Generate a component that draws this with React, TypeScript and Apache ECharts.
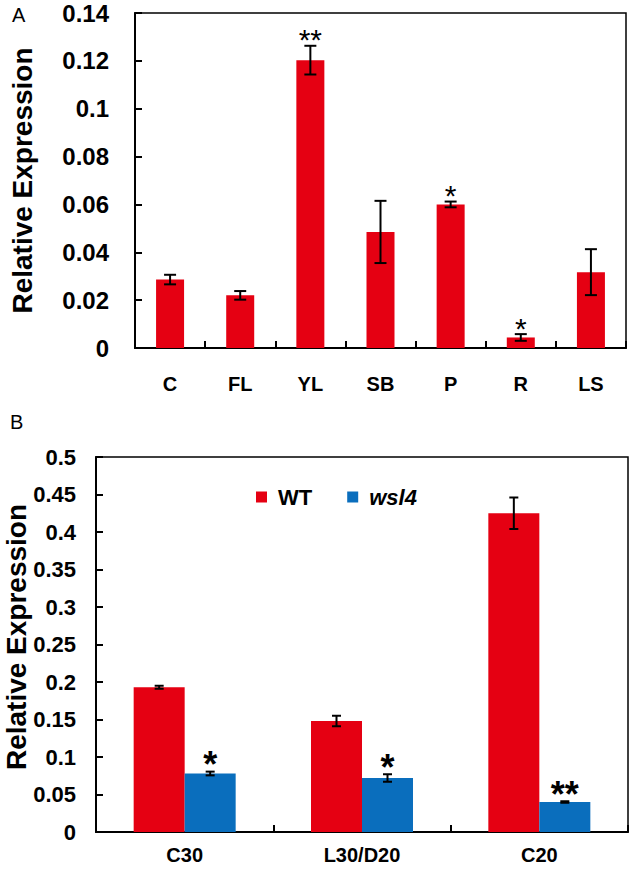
import React, { useEffect, useRef } from "react";
import * as echarts from "echarts";

// Panel A data
const catsA = ["C", "FL", "YL", "SB", "P", "R", "LS"];
const valsA = [0.0286, 0.022, 0.1203, 0.0485, 0.06, 0.0044, 0.0317];
const errsA = [0.002, 0.0018, 0.006, 0.013, 0.0012, 0.0014, 0.0096];
const starsA = ["", "", "**", "", "*", "*", ""];
const ticksA = { min: 0, max: 0.14, interval: 0.02 };

// Panel B data
const catsB = ["C30", "L30/D20", "C20"];
const seriesNamesB = ["WT", "wsl4"];
const wtB = [0.193, 0.148, 0.425];
const wtErrB = [0.002, 0.007, 0.021];
const wtStarsB = ["", "", ""];
const wslB = [0.078, 0.072, 0.04];
const wslErrB = [0.0025, 0.005, 0.001];
const wslStarsB = ["*", "*", "**"];
const ticksB = { min: 0, max: 0.5, interval: 0.05 };

const RED = "#E50012";
const BLUE = "#0A6EBD";
const FONT = 'Arial, "Liberation Sans", sans-serif';

function errSeries(
  values: number[],
  errs: number[],
  stars: string[],
  offset: number,
  gridIdx: number,
  capW: number,
  starSize: number,
  starGap: number,
  starWeight: string
) {
  return {
    type: "custom",
    xAxisIndex: gridIdx,
    yAxisIndex: gridIdx,
    z: 10,
    silent: true,
    encode: { x: 0, y: 1 },
    data: values.map((v, i) => [i, v, errs[i]]),
    renderItem: (params: any, api: any) => {
      const i = api.value(0);
      const v = api.value(1);
      const e = api.value(2);
      const pt = api.coord([i, v + e]);
      const pb = api.coord([i, v - e]);
      const x = pt[0] + offset;
      const st = { stroke: "#000", lineWidth: 2 };
      const children: any[] = [
        { type: "line", shape: { x1: x, y1: pt[1], x2: x, y2: pb[1] }, style: st },
        { type: "line", shape: { x1: x - capW / 2, y1: pt[1], x2: x + capW / 2, y2: pt[1] }, style: st },
        { type: "line", shape: { x1: x - capW / 2, y1: pb[1], x2: x + capW / 2, y2: pb[1] }, style: st },
      ];
      const s = stars[params.dataIndex];
      if (s) {
        children.push({
          type: "text",
          x: x,
          y: pt[1] - starGap,
          style: {
            text: s,
            fill: "#000",
            font: `${starWeight} ${starSize}px ${FONT}`,
            align: "center",
            verticalAlign: "middle",
          },
        });
      }
      return { type: "group", children };
    },
  };
}

export default function App() {
  const ref = useRef<HTMLDivElement>(null);
  useEffect(() => {
    if (!ref.current) return;
    const chart = echarts.init(ref.current, undefined, { renderer: "svg" });
    const axisLine = { show: true, lineStyle: { color: "#000", width: 2 } };
    const yLabel = (size: number, margin: number) => ({
      color: "#000",
      fontWeight: "bold",
      fontSize: size,
      fontFamily: FONT,
      margin,
    });
    const barWB = 51;
    chart.setOption({
      animation: false,
      backgroundColor: "#fff",
      grid: [
        { left: 123, top: 13, right: 8, bottom: 521, show: true, borderColor: "#000", borderWidth: 1.5 },
        { left: 96, top: 457, right: 6, bottom: 37, show: true, borderColor: "#000", borderWidth: 1.5 },
      ],
      legend: {
        data: seriesNamesB,
        left: 256,
        top: 486,
        padding: 0,
        icon: "rect",
        itemWidth: 11,
        itemHeight: 11,
        itemGap: 35,
        formatter: (name: string) => (name === "wsl4" ? `{i|${name}}` : `{b|${name}}`),
        textStyle: {
          padding: [0, 0, 0, 6],
          rich: {
            b: { fontSize: 22, fontWeight: "bold", fontFamily: FONT, color: "#000" },
            i: { fontSize: 22, fontWeight: "bold", fontStyle: "italic", fontFamily: FONT, color: "#000" },
          },
        },
      },
      graphic: [
        { type: "text", left: 12, top: 5, style: { text: "A", font: `20px ${FONT}`, fill: "#000" } },
        { type: "text", left: 10, top: 412, style: { text: "B", font: `20px ${FONT}`, fill: "#000" } },
        {
          type: "text",
          x: 16,
          y: 637,
          rotation: Math.PI / 2,
          style: {
            text: "Relative Expression",
            font: `bold 28px ${FONT}`,
            fill: "#000",
            align: "center",
            verticalAlign: "middle",
          },
        },
      ],
      xAxis: [
        {
          type: "category",
          gridIndex: 0,
          data: catsA,
          axisLine,
          axisTick: { show: true, inside: true, length: 7, lineStyle: { color: "#000", width: 2 } },
          axisLabel: { color: "#000", fontWeight: "bold", fontSize: 20, fontFamily: FONT, margin: 26 },
        },
        {
          type: "category",
          gridIndex: 1,
          data: catsB,
          axisLine,
          axisTick: { show: true, inside: true, length: 7, lineStyle: { color: "#000", width: 2 } },
          axisLabel: { color: "#000", fontWeight: "bold", fontSize: 20, fontFamily: FONT, margin: 13 },
        },
      ],
      yAxis: [
        {
          type: "value",
          gridIndex: 0,
          ...ticksA,
          axisLine,
          splitLine: { show: false },
          axisTick: { show: true, inside: true, length: 7, lineStyle: { color: "#000", width: 2 } },
          axisLabel: yLabel(24, 26),
          name: "Relative Expression",
          nameLocation: "middle",
          nameRotate: 90,
          nameGap: 99,
          nameTextStyle: { color: "#000", fontWeight: "bold", fontSize: 28, fontFamily: FONT },
        },
        {
          type: "value",
          gridIndex: 1,
          ...ticksB,
          axisLine,
          splitLine: { show: false },
          axisTick: { show: true, inside: true, length: 7, lineStyle: { color: "#000", width: 2 } },
          axisLabel: yLabel(22, 20),
        },
      ],
      series: [
        {
          type: "bar",
          xAxisIndex: 0,
          yAxisIndex: 0,
          data: valsA,
          barWidth: 28,
          itemStyle: { color: RED },
        },
        errSeries(valsA, errsA, starsA, 0, 0, 12, 30, 6, "normal"),
        {
          type: "bar",
          name: seriesNamesB[0],
          xAxisIndex: 1,
          yAxisIndex: 1,
          data: wtB,
          barWidth: barWB,
          barGap: "0%",
          itemStyle: { color: RED },
        },
        {
          type: "bar",
          name: seriesNamesB[1],
          xAxisIndex: 1,
          yAxisIndex: 1,
          data: wslB,
          barWidth: barWB,
          barGap: "0%",
          itemStyle: { color: BLUE },
        },
        errSeries(wtB, wtErrB, wtStarsB, -barWB / 2, 1, 9, 36, 7, "bold"),
        errSeries(wslB, wslErrB, wslStarsB, barWB / 2, 1, 9, 36, 7, "bold"),
      ],
    });
    return () => chart.dispose();
  }, []);
  return (
    <div
      ref={ref}
      style={{ position: "absolute", left: 0, top: 0, width: 634, height: 869, background: "#fff" }}
    />
  );
}
